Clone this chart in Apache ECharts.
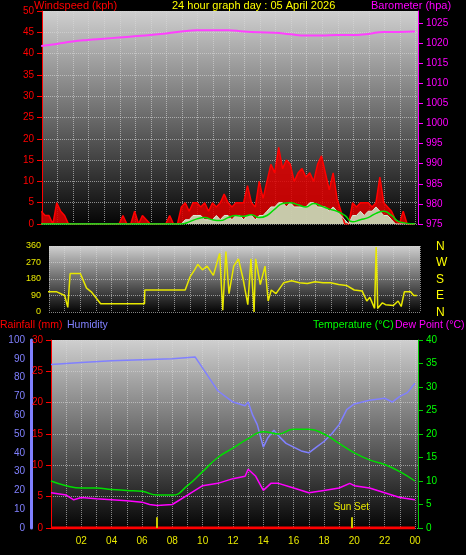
<!DOCTYPE html>
<html>
<head>
<meta charset="utf-8">
<script src="https://cdn.jsdelivr.net/npm/echarts@6/dist/echarts.min.js"></script>
<style>html,body{margin:0;padding:0;background:#000;}#main{width:466px;height:555px;}</style>
</head>
<body>
<div id="main"></div>
<script>
// wind, every 15 minutes from 00:00
var windHours = [];
var windGust = [3,2,2,0, 5,3,2,0, 0,0,0,0, 0,0,0,0, 0,0,0,0, 0,2,0,0, 3,0,2,1, 0,0,0,0,
    0,2,0,0, 4,5,3,5, 5,4,5,3, 5,4,5,7, 5,4,5,5, 5,9,5,4, 10,6,10,14, 12,18,13,15,
    14,10,12,13, 11,12,10,14, 16,12,8,12, 6,3,0,0, 5,4,5,5, 5,4,5,11, 5,4,3,1, 0,3,0,0, 0];
var windAvg = [0,0,0,0, 0,0,0,0, 0,0,0,0, 0,0,0,0, 0,0,0,0, 0,0,0,0, 0,0,0,0, 0,0,0,0,
    0,0,0,0, 0,1,1,2, 2,2,1,1, 1,2,1,2, 2,1,2,2, 1,2,2,1, 2,2,3,4, 4,5,5,4,
    5,4,4,4, 4,5,5,4, 4,4,3,4, 3,2,1,0, 2,2,3,2, 3,3,4,3, 2,2,1,0, 0,0,0,0, 0];
for (var i = 0; i < windGust.length; i++) windHours.push(i * 0.25);

// wind average trend, every 30 minutes
var trendHours = [0,1,2,3,4,5,6,7,8,9,9.5,10,10.5,11,11.5,12,12.5,13,13.5,14,14.5,15,15.5,16,16.5,17,17.5,18,18.5,19,19.5,20,20.5,21,21.5,22,22.5,23,24];
var windTrend = [0,0,0,0,0,0,0,0,0,0,0.5,1.2,1.5,1,0.8,1.5,2,1.8,2.2,1.5,2,3.5,4.8,5,4.5,4,4.8,4.2,3.5,3,2,0.5,1,1.5,2.5,3,2,0.5,0];

var hours = [0,1,2,3,4,5,6,7,8,9,10,11,12,13,14,15,16,17,18,19,20,21,22,23,24];
var barometer = [1019.3,1019.8,1020.4,1020.8,1021.1,1021.4,1021.7,1022.0,1022.4,1022.9,1023.2,1023.2,1023.2,1022.9,1022.7,1022.6,1022.2,1021.9,1021.9,1022.0,1022.0,1022.3,1022.8,1022.8,1022.9];

var dirHours = [0,1,1.5,1.7,1.85,2.5,2.9,3.2,3.8,6.6,6.62,9.2,9.3,9.5,9.8,10,10.3,10.6,11,11.4,11.6,11.8,12,12.3,12.6,12.9,13.2,13.4,13.6,13.7,14,14.3,14.5,14.7,15,15.5,16,16.5,17,17.5,18,18.5,19,19.5,20,20.5,20.8,21,21.3,21.4,21.5,21.8,22,22.5,22.8,23,23.2,23.6,23.8,24];
var dirValues = [110,110,90,25,210,210,130,110,45,45,120,120,130,190,230,260,230,250,200,320,10,330,100,250,290,180,40,290,0,290,150,250,60,120,100,160,170,160,155,165,160,160,150,145,120,115,60,80,20,355,20,50,40,35,60,30,110,110,90,90];

var humHours = [0,2,4,6,8,9.5,10,11,12,12.8,13,13.3,13.6,14,14.3,14.7,15,15.5,16,16.5,17,17.5,18,18.5,19,19.5,20,21,22,22.5,23,23.5,24];
var humidity = [87,88,89,89.5,90,91,85,73,67,65,67,60,55,43,48,52,49,45,43,41,40,43,46,50,55,63,66,68,69,67,70,72,77];
var temperature = [10,9,8.5,8.5,8.2,8,7.8,7,7,9,12,15,17,19,20.5,20,21,21,20,18,16,14.5,13.5,12,10];
var dewHours = [0,1,1.5,2,3,4,5,6,6.5,7,8,9,10,11,12,12.8,13,13.5,14,14.5,15,16,17,18,19,19.7,20,21,22,23,24];
var dewPoint = [7.5,7,6,6.5,6.2,6,5.8,5.5,5,4.8,5,7,9,9.5,10.5,11,12.5,11,8,9.5,9.5,8.5,7.5,8,8.5,9.5,9,8.5,7.5,6.5,6];
var rainfall = [0,0,0,0,0,0,0,0,0,0,0,0,0,0,0,0,0,0,0,0,0,0,0,0,0];
var sunTimes = [7.0, 19.8];

var hourLabels = function (v) {
    if (v % 2 !== 0 || v === 0) return '';
    return v === 24 ? '00' : (v < 10 ? '0' + v : '' + v);
};

function pairs(xs, ys) {
    return xs.map(function (x, k) { return [x, ys[k]]; });
}

var bg = new echarts.graphic.LinearGradient(0, 0, 0, 1, [
    {offset: 0, color: '#cfcfcf'}, {offset: 0.5, color: '#6a6a6a'}, {offset: 1, color: '#050505'}
]);
var font = 'Liberation Sans';
var gridLine = {show: true, lineStyle: {color: '#d8d8d8', type: 'dotted', opacity: 0.6}};

function xAxis(idx, min, top) {
    return {
        type: 'value', gridIndex: idx, min: min, max: 24.2, interval: 1,
        position: top ? 'top' : 'bottom',
        axisLine: {show: false}, axisTick: {show: false},
        axisLabel: {color: '#e8e800', fontSize: 10, fontFamily: font, formatter: hourLabels, showMaxLabel: true},
        splitLine: {show: true, lineStyle: {color: '#d8d8d8', type: 'dotted', opacity: 0.6}, interval: 0}
    };
}

var chart = echarts.init(document.getElementById('main'));
var option = {
    backgroundColor: '#000',
    animation: false,
    textStyle: {fontFamily: font},
    graphic: [
        {type: 'text', left: 34, top: 0, style: {text: 'Windspeed (kph)', fill: '#ff0000', fontSize: 11, fontFamily: font}},
        {type: 'text', left: 172, top: 0, style: {text: '24 hour graph day : 05 April 2026', fill: '#ffff00', fontSize: 11, fontFamily: font}},
        {type: 'text', left: 371, top: 0, style: {text: 'Barometer (hpa)', fill: '#ff00ff', fontSize: 11, fontFamily: font}},
        {type: 'text', left: 0, top: 320, style: {text: 'Rainfall (mm)', fill: '#ff0000', fontSize: 10.5, fontFamily: font}},
        {type: 'text', left: 67, top: 320, style: {text: 'Humidity', fill: '#8080ff', fontSize: 10.5, fontFamily: font}},
        {type: 'text', left: 313, top: 320, style: {text: 'Temperature (°C)', fill: '#00ff00', fontSize: 10.5, fontFamily: font}},
        {type: 'text', left: 395, top: 320, style: {text: 'Dew Point (°C)', fill: '#ff00ff', fontSize: 10.5, fontFamily: font}},
        {type: 'text', left: 436, top: 238, style: {text: 'N\nW\nS\nE\nN', fill: '#ffff00', fontSize: 12, lineHeight: 16.5, fontFamily: font}}
    ],
    grid: [
        {left: 42, right: 48, top: 11, height: 213, show: true, backgroundColor: bg, borderWidth: 0},
        {left: 49, right: 46, top: 246, height: 66, show: true, backgroundColor: bg, borderWidth: 0},
        {left: 51, right: 48, top: 340, height: 188, show: true, backgroundColor: bg, borderWidth: 0}
    ],
    xAxis: [xAxis(0, 0.05, false), xAxis(1, 0.5, true), xAxis(2, 0, false)],
    yAxis: [
        {type: 'value', gridIndex: 0, min: 0, max: 50, interval: 5, axisLine: {show: true, lineStyle: {color: '#ff0000'}},
            axisTick: {show: true}, axisLabel: {color: '#ff0000', fontSize: 10}, splitLine: gridLine},
        {type: 'value', gridIndex: 0, min: 975, max: 1028, interval: 5, position: 'right',
            axisLine: {show: true, lineStyle: {color: '#ff00ff'}}, axisTick: {show: true},
            axisLabel: {color: '#ff00ff', fontSize: 10, showMaxLabel: false, formatter: function (v) { return '' + v; }},
            splitLine: {show: false}},
        {type: 'value', gridIndex: 1, min: 0, max: 360, interval: 90, axisLine: {show: false}, axisTick: {show: false},
            axisLabel: {color: '#e8e800', fontSize: 9}, splitLine: gridLine},
        {type: 'value', gridIndex: 2, min: 0, max: 30, interval: 5, axisLine: {show: true, lineStyle: {color: '#ff0000'}},
            axisTick: {show: true}, axisLabel: {color: '#ff0000', fontSize: 10}, splitLine: gridLine},
        {type: 'value', gridIndex: 2, min: 0, max: 100, interval: 10, position: 'left', offset: 20,
            axisLine: {show: true, lineStyle: {color: '#8080ff', width: 3}}, axisTick: {show: false},
            axisLabel: {color: '#8080ff', fontSize: 10, margin: 6}, splitLine: {show: false}},
        {type: 'value', gridIndex: 2, min: 0, max: 40, interval: 5, position: 'right',
            axisLine: {show: true, lineStyle: {color: '#00cc00'}}, axisTick: {show: true},
            axisLabel: {color: '#00ff00', fontSize: 10}, splitLine: {show: false}}
    ],
    series: [
        {type: 'line', xAxisIndex: 0, yAxisIndex: 0, data: pairs(windHours, windGust), symbol: 'none',
            lineStyle: {color: '#ff0000', width: 1.5}, areaStyle: {color: '#e00000', opacity: 0.85}},
        {type: 'line', xAxisIndex: 0, yAxisIndex: 0, data: pairs(windHours, windAvg), symbol: 'none',
            lineStyle: {color: '#d8f0d8', width: 1}, areaStyle: {color: '#c8ecc8', opacity: 0.85}},
        {type: 'line', xAxisIndex: 0, yAxisIndex: 0, data: pairs(trendHours, windTrend), smooth: true, symbol: 'none',
            lineStyle: {color: '#00dd00', width: 1.5}},
        {type: 'line', xAxisIndex: 0, yAxisIndex: 1, data: pairs(hours, barometer), smooth: true, symbol: 'none',
            lineStyle: {color: '#ff40ff', width: 2}},
        {type: 'line', xAxisIndex: 1, yAxisIndex: 2, data: pairs(dirHours, dirValues), symbol: 'none',
            lineStyle: {color: '#e8e800', width: 1.5}},
        {type: 'line', xAxisIndex: 2, yAxisIndex: 3, data: pairs(hours, rainfall), symbol: 'none',
            lineStyle: {color: '#ff0000', width: 3},
            markLine: {silent: true, symbol: 'none', lineStyle: {color: '#c8c800', width: 2, type: 'solid'},
                label: {show: false},
                data: sunTimes.map(function (t, k) {
                    return [{coord: [t, 0]}, {coord: [t, 1.7], label: {show: k === 1, formatter: 'Sun Set', color: '#e8e800', fontSize: 10, position: 'end'}}];
                })}},
        {type: 'line', xAxisIndex: 2, yAxisIndex: 4, data: pairs(humHours, humidity), symbol: 'none',
            lineStyle: {color: '#8080ff', width: 1.5}},
        {type: 'line', xAxisIndex: 2, yAxisIndex: 5, data: pairs(hours, temperature), smooth: true, symbol: 'none',
            lineStyle: {color: '#00dd00', width: 1.5}},
        {type: 'line', xAxisIndex: 2, yAxisIndex: 5, data: pairs(dewHours, dewPoint), symbol: 'none',
            lineStyle: {color: '#ff00ff', width: 1.5}}
    ]
};
chart.setOption(option);
</script>
</body>
</html>
